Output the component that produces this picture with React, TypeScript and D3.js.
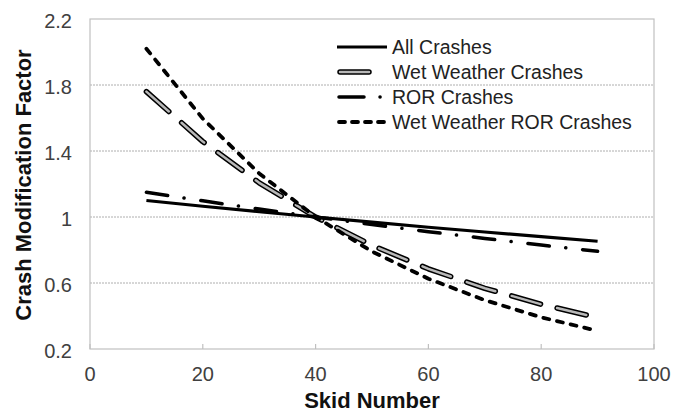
import React from "react";
import * as d3 from "d3";

const skid = [10, 20, 30, 40, 50, 60, 70, 80, 90];
const allCrashes = [1.1, 1.065, 1.032, 1.0, 0.969, 0.938, 0.909, 0.881, 0.853];
const wetCrashes = [1.76, 1.457, 1.207, 1.0, 0.828, 0.686, 0.568, 0.471, 0.39];
const rorCrashes = [1.15, 1.098, 1.048, 1.0, 0.954, 0.911, 0.87, 0.83, 0.792];
const wetRorCrashes = [2.02, 1.596, 1.264, 1.0, 0.791, 0.626, 0.496, 0.392, 0.31];
const xTicks = [0, 20, 40, 60, 80, 100];
const yTicks = [0.2, 0.6, 1, 1.4, 1.8, 2.2];
const yGrid = [0.6, 1, 1.4, 1.8];
const seriesNames = ["All Crashes", "Wet Weather Crashes", "ROR Crashes", "Wet Weather ROR Crashes"];

const W = 675, H = 412;
const L = 90, R = 654, T = 19, B = 349;

export default function App() {
  const x = d3.scaleLinear().domain([0, 100]).range([L, R]);
  const y = d3.scaleLinear().domain([0.2, 2.2]).range([B, T]);
  const line = d3.line<[number, number]>().x(d => x(d[0])).y(d => y(d[1]));
  const mk = (vals: number[]) => line(skid.map((s, i) => [s, vals[i]]) as [number, number][]) || "";
  const font = "'Liberation Sans', Arial, sans-serif";

  const styles = [
    { key: "all", layers: [{ stroke: "#000", w: 3.2, dash: undefined as string | undefined, cap: "butt" }] },
    { key: "wet", layers: [
      { stroke: "#000", w: 5.5, dash: "30 17", cap: "round" },
      { stroke: "#b8b8b8", w: 2.5, dash: "30 17", cap: "round" },
    ] },
    { key: "ror", layers: [{ stroke: "#000", w: 3.5, dash: "21.5 16.5 0.1 16.9", cap: "round" }] },
    { key: "wetror", layers: [{ stroke: "#000", w: 3.8, dash: "6 8", cap: "round" }] },
  ];
  const data = [allCrashes, wetCrashes, rorCrashes, wetRorCrashes];

  const legendX1 = 337, legendX2 = 387, legendTextX = 392;
  const legendY = [47, 72, 97, 122];
  const legendStyles = [
    [{ stroke: "#000", w: 3.2, dash: undefined as string | undefined, cap: "butt", x1: legendX1, x2: legendX2 }],
    [
      { stroke: "#000", w: 5.5, dash: undefined, cap: "round", x1: legendX1 + 3, x2: legendX1 + 32 },
      { stroke: "#b8b8b8", w: 2.5, dash: undefined, cap: "round", x1: legendX1 + 3, x2: legendX1 + 32 },
    ],
    [{ stroke: "#000", w: 3.5, dash: "25 16 0.1 40", cap: "round", x1: legendX1 + 2, x2: legendX2 }],
    [{ stroke: "#000", w: 3.8, dash: "6 7", cap: "round", x1: legendX1 + 2, x2: legendX2 }],
  ];

  return (
    <svg width={W} height={H} style={{ position: "absolute", left: 0, top: 0, background: "#fff" }}>
      {yGrid.map(v => (
        <line key={v} x1={L} x2={R} y1={y(v)} y2={y(v)} stroke="#999" strokeWidth={0.8} strokeDasharray="2 1" />
      ))}
      <rect x={L} y={T} width={R - L} height={B - T} fill="none" stroke="#c0c0c0" strokeWidth={1.2} />
      {xTicks.map(v => (
        <line key={v} x1={x(v)} x2={x(v)} y1={B} y2={B - 5} stroke="#c0c0c0" strokeWidth={1.2} />
      ))}
      {data.map((vals, i) => (
        <g key={styles[i].key}>
          {styles[i].layers.map((ly, j) => (
            <path key={j} d={mk(vals)} fill="none" stroke={ly.stroke} strokeWidth={ly.w}
              strokeDasharray={ly.dash} strokeLinecap={ly.cap as any} strokeLinejoin="round" />
          ))}
        </g>
      ))}
      {yTicks.map(v => (
        <text key={v} x={72} y={y(v) + 8.5} textAnchor="end" fontFamily={font} fontSize={20} fill="#404040">
          {d3.format("")(v)}
        </text>
      ))}
      {xTicks.map(v => (
        <text key={v} x={x(v)} y={381} textAnchor="middle" fontFamily={font} fontSize={20} fill="#404040">
          {v}
        </text>
      ))}
      <text x={372} y={408} textAnchor="middle" fontFamily={font} fontSize={22} fontWeight="bold" fill="#111">Skid Number</text>
      <text transform={`translate(31,185) rotate(-90)`} textAnchor="middle" fontFamily={font} fontSize={22} fontWeight="bold" fill="#111">
        Crash Modification Factor
      </text>
      {seriesNames.map((n, i) => (
        <g key={n}>
          {legendStyles[i].map((ly, j) => (
            <line key={j} x1={ly.x1} x2={ly.x2} y1={legendY[i]} y2={legendY[i]} stroke={ly.stroke} strokeWidth={ly.w}
              strokeDasharray={ly.dash} strokeLinecap={ly.cap as any} />
          ))}
          <text x={legendTextX} y={legendY[i] + 7} fontFamily={font} fontSize={19.5} fill="#222">{n}</text>
        </g>
      ))}
    </svg>
  );
}
